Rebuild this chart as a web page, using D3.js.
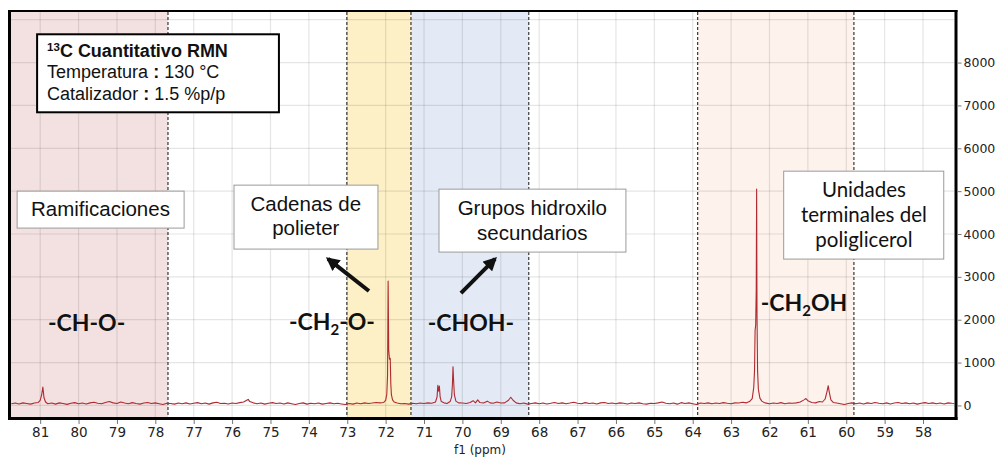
<!DOCTYPE html>
<html>
<head>
<meta charset="utf-8">
<script src="https://cdn.jsdelivr.net/npm/d3@7"></script>
<style>
  body { margin: 0; background: #fff; }
  svg { display: block; }
</style>
</head>
<body>
<svg id="chart" width="996" height="457"></svg>
<script>
// ---- data ----------------------------------------------------------------
const ppmTicks = [81, 80, 79, 78, 77, 76, 75, 74, 73, 72, 71, 70, 69, 68, 67, 66, 65, 64, 63, 62, 61, 60, 59, 58];
const intensityTicks = [0, 1000, 2000, 3000, 4000, 5000, 6000, 7000, 8000];
const intensityGrid = [0, 1000, 2000, 3000, 4000, 5000, 6000, 7000, 8000, 9000];

// assignment regions (ppm from, ppm to)
const regionKeys = ["ramificaciones", "polieter", "hidroxilo", "terminales"];
const regionFrom = [81.76, 73.01, 71.34, 63.87];
const regionTo = [77.67, 71.34, 68.27, 59.80];
const regionBounds = [77.67, 73.01, 71.34, 68.27, 63.87, 59.80];

// 13C spectrum, [ppm, intensity]
const spectrum = [
  [81.75, 40], [81.65, 55], [81.55, 35], [81.45, 60], [81.35, 45], [81.25, 30], [81.15, 55], [81.05, 70],
  [81.00, 120], [80.96, 250], [80.93, 430], [80.90, 180], [80.86, 80], [80.80, 40], [80.70, 55], [80.60, 30],
  [80.50, 60], [80.40, 45], [80.30, 25], [80.20, 50], [80.10, 65], [80.00, 40], [79.90, 55], [79.80, 35],
  [79.70, 60], [79.60, 75], [79.50, 50], [79.40, 40], [79.30, 70], [79.20, 90], [79.10, 60], [79.00, 45],
  [78.90, 80], [78.80, 55], [78.70, 40], [78.60, 65], [78.50, 45], [78.40, 30], [78.30, 55], [78.20, 70],
  [78.10, 45], [78.00, 60], [77.90, 40], [77.80, 20], [77.70, 50], [77.60, 45], [77.50, 30], [77.40, 55],
  [77.30, 40], [77.20, 60], [77.10, 35], [77.00, 50], [76.90, 65], [76.80, 40], [76.70, 55], [76.60, 30],
  [76.50, 60], [76.40, 75], [76.30, 45], [76.20, 50], [76.10, 35], [76.00, 55], [75.90, 45], [75.80, 65],
  [75.70, 80], [75.62, 120], [75.58, 140], [75.54, 90], [75.45, 60], [75.35, 40], [75.25, 55], [75.15, 30],
  [75.05, 50], [74.95, 65], [74.85, 45], [74.75, 55], [74.65, 35], [74.55, 60], [74.45, 40], [74.35, 20],
  [74.25, 45], [74.15, 60], [74.05, 30], [73.95, 50], [73.85, 40], [73.75, 55], [73.65, 30], [73.55, 45],
  [73.45, 60], [73.35, 40], [73.25, 50], [73.15, 35], [73.05, 20], [72.95, 45], [72.85, 30], [72.75, 55],
  [72.65, 40], [72.55, 60], [72.45, 45], [72.35, 55], [72.25, 70], [72.15, 60], [72.05, 70], [72.00, 120],
  [71.97, 260], [71.95, 700], [71.935, 2900], [71.92, 1300], [71.90, 1080], [71.88, 1100], [71.865, 500],
  [71.85, 250], [71.82, 130], [71.78, 80], [71.70, 55], [71.60, 40], [71.50, 45], [71.40, 30], [71.30, 50],
  [71.20, 40], [71.10, 55], [71.00, 45], [70.90, 60], [70.80, 50], [70.70, 80], [70.66, 200], [70.64, 470],
  [70.62, 330], [70.60, 450], [70.58, 200], [70.55, 90], [70.48, 60], [70.40, 45], [70.32, 90], [70.28, 200],
  [70.26, 500], [70.245, 900], [70.23, 600], [70.21, 250], [70.17, 100], [70.10, 60], [70.00, 55], [69.90, 45],
  [69.80, 70], [69.72, 110], [69.66, 60], [69.60, 130], [69.55, 70], [69.45, 55], [69.35, 100], [69.28, 60],
  [69.20, 50], [69.10, 80], [69.00, 55], [68.90, 60], [68.80, 120], [68.74, 190], [68.68, 120], [68.60, 60],
  [68.50, 40], [68.40, 55], [68.30, 30], [68.20, 45], [68.10, 60], [68.00, 40], [67.90, 55], [67.80, 35],
  [67.70, 50], [67.60, 70], [67.50, 45], [67.40, 60], [67.30, 40], [67.20, 55], [67.10, 75], [67.00, 50],
  [66.90, 40], [66.80, 65], [66.70, 45], [66.60, 55], [66.50, 35], [66.40, 60], [66.30, 70], [66.20, 45],
  [66.10, 55], [66.00, 40], [65.90, 60], [65.80, 50], [65.70, 35], [65.60, 55], [65.50, 45], [65.40, 60],
  [65.30, 40], [65.20, 30], [65.10, 50], [65.00, 45], [64.90, 60], [64.80, 80], [64.70, 50], [64.60, 40],
  [64.50, 55], [64.40, 30], [64.30, 65], [64.20, 45], [64.10, 60], [64.00, 40], [63.90, 20], [63.80, 55],
  [63.70, 45], [63.60, 60], [63.50, 40], [63.40, 55], [63.30, 45], [63.20, 65], [63.10, 50], [63.00, 40],
  [62.90, 60], [62.80, 55], [62.70, 75], [62.60, 60], [62.52, 90], [62.45, 160], [62.41, 420], [62.39, 800],
  [62.375, 1750], [62.36, 1870], [62.345, 2700], [62.335, 5050], [62.325, 2100], [62.31, 800], [62.29, 380],
  [62.25, 170], [62.20, 100], [62.12, 60], [62.00, 40], [61.90, 55], [61.80, 45], [61.70, 65], [61.60, 40],
  [61.50, 55], [61.40, 50], [61.30, 60], [61.20, 80], [61.10, 130], [61.05, 160], [61.00, 110], [60.90, 70],
  [60.80, 60], [60.70, 90], [60.62, 80], [60.55, 150], [60.50, 330], [60.47, 460], [60.44, 300], [60.40, 130],
  [60.34, 70], [60.25, 55], [60.15, 40], [60.05, 20], [59.95, 45], [59.85, 60], [59.75, 40], [59.65, 55],
  [59.55, 35], [59.45, 60], [59.35, 45], [59.25, 70], [59.15, 50], [59.05, 40], [58.95, 60], [58.85, 35],
  [58.75, 55], [58.65, 70], [58.55, 45], [58.45, 60], [58.35, 40], [58.25, 55], [58.15, 30], [58.05, 50],
  [57.95, 65], [57.85, 45], [57.75, 60], [57.65, 40], [57.55, 55], [57.45, 35], [57.35, 60], [57.25, 50],
  [57.18, 45]
];

// ---- layout & styles -------------------------------------------------------
const W = 996, H = 457;
const plot = { left: 11, right: 954.5, top: 12, bottom: 417 };
const regionFill = {
  ramificaciones: "#f3e1e1",
  polieter: "#fdf0c6",
  hidroxilo: "#e4eaf5",
  terminales: "#fdf2ec"
};
const axisFont = "'DejaVu Sans', Verdana, sans-serif";
const boxFont = "'Liberation Sans', Arial, sans-serif";
const labelFont = "Lato, 'Open Sans', sans-serif";

const svg = d3.select("#chart");
svg.append("rect").attr("width", W).attr("height", H).attr("fill", "#fff");

const x = d3.scaleLinear().domain([81.76, 57.18]).range([plot.left, plot.right]);
const y = d3.scaleLinear().domain([-270, 9180]).range([plot.bottom, plot.top]);

const defs = svg.append("defs");
defs.append("clipPath").attr("id", "plot-clip")
  .append("rect")
  .attr("x", plot.left).attr("y", plot.top)
  .attr("width", plot.right - plot.left).attr("height", plot.bottom - plot.top);

const inner = svg.append("g").attr("clip-path", "url(#plot-clip)");

// shaded assignment regions
inner.selectAll("rect.region")
  .data(regionKeys.map((k, i) => ({ key: k, from: regionFrom[i], to: regionTo[i] })))
  .join("rect")
  .attr("class", "region")
  .attr("x", d => x(d.from))
  .attr("width", d => x(d.to) - x(d.from))
  .attr("y", plot.top)
  .attr("height", plot.bottom - plot.top)
  .attr("fill", d => regionFill[d.key]);

// grid
inner.selectAll("line.vgrid")
  .data(ppmTicks)
  .join("line")
  .attr("x1", d => x(d)).attr("x2", d => x(d))
  .attr("y1", plot.top).attr("y2", plot.bottom)
  .attr("stroke", "#000").attr("stroke-opacity", 0.1).attr("stroke-width", 1.2);

inner.selectAll("line.hgrid")
  .data(intensityGrid)
  .join("line")
  .attr("x1", plot.left).attr("x2", plot.right)
  .attr("y1", d => y(d)).attr("y2", d => y(d))
  .attr("stroke", "#000").attr("stroke-opacity", 0.1).attr("stroke-width", 1.2);

// dashed region boundaries
inner.selectAll("line.bound")
  .data(regionBounds)
  .join("line")
  .attr("x1", d => x(d)).attr("x2", d => x(d))
  .attr("y1", plot.top).attr("y2", plot.bottom)
  .attr("stroke", "#111").attr("stroke-width", 1)
  .attr("stroke-dasharray", "3,2");

// spectrum trace
const line = d3.line().x(d => x(d[0])).y(d => y(d[1]));
inner.append("path")
  .datum(spectrum)
  .attr("d", line)
  .attr("fill", "none")
  .attr("stroke", "#b02a30")
  .attr("stroke-width", 1.1)
  .attr("stroke-linejoin", "round");

// frame
const frame = svg.append("g").attr("stroke", "#000");
frame.append("line").attr("x1", plot.left - 1.5).attr("x2", plot.left - 1.5)
  .attr("y1", plot.top - 2).attr("y2", plot.bottom + 3).attr("stroke-width", 3);
frame.append("line").attr("x1", plot.right + 1.5).attr("x2", plot.right + 1.5)
  .attr("y1", plot.top - 2).attr("y2", plot.bottom + 3).attr("stroke-width", 3);
frame.append("line").attr("x1", plot.left - 3).attr("x2", plot.right + 3)
  .attr("y1", plot.top - 1).attr("y2", plot.top - 1).attr("stroke-width", 2);
frame.append("line").attr("x1", plot.left - 3).attr("x2", plot.right + 3)
  .attr("y1", plot.bottom + 1.5).attr("y2", plot.bottom + 1.5).attr("stroke-width", 3);

// x axis (ppm)
const xAxis = d3.axisBottom(x).tickValues(ppmTicks).tickSize(4).tickPadding(3).tickFormat(d3.format("d"));
const gx = svg.append("g").attr("transform", `translate(0,${plot.bottom + 3})`).call(xAxis);
gx.select(".domain").remove();
gx.selectAll(".tick line").attr("stroke", "#777");
gx.selectAll(".tick text").attr("font-family", axisFont).attr("font-size", 13.5).attr("fill", "#222");

svg.append("text")
  .attr("x", 480).attr("y", 454)
  .attr("text-anchor", "middle")
  .attr("font-family", axisFont).attr("font-size", 12).attr("fill", "#222")
  .text("f1 (ppm)");

// y axis (intensity), right side
const yAxis = d3.axisRight(y).tickValues(intensityTicks).tickSize(4).tickPadding(2).tickFormat(d3.format("d"));
const gy = svg.append("g").attr("transform", `translate(${plot.right + 3},0)`).call(yAxis);
gy.select(".domain").remove();
gy.selectAll(".tick line").attr("stroke", "#777");
gy.selectAll(".tick text").attr("font-family", axisFont).attr("font-size", 12.5).attr("fill", "#222");

// ---- annotations (placed in ppm / intensity coordinates) ---------------------
const ann = svg.append("g");

// info box
ann.append("rect")
  .attr("x", x(81.08)).attr("y", y(8660))
  .attr("width", x(74.78) - x(81.08)).attr("height", y(6840) - y(8660))
  .attr("fill", "#fff").attr("stroke", "#000").attr("stroke-width", 2);
const info = ann.append("text").attr("font-family", boxFont).attr("font-size", 18).attr("fill", "#111");
const t1 = info.append("tspan").attr("x", x(80.82)).attr("y", y(8126)).attr("font-weight", "bold");
t1.append("tspan").attr("font-size", 11.5).attr("dy", -6).text("13");
t1.append("tspan").attr("dy", 6).text("C Cuantitativo RMN");
const t2 = info.append("tspan").attr("x", x(80.82)).attr("y", y(7634));
t2.append("tspan").text("Temperatura ");
t2.append("tspan").attr("font-weight", "bold").text(":");
t2.append("tspan").text(" 130 °C");
const t3 = info.append("tspan").attr("x", x(80.82)).attr("y", y(7121));
t3.append("tspan").text("Catalizador ");
t3.append("tspan").attr("font-weight", "bold").text(":");
t3.append("tspan").text(" 1.5 %p/p");

// region caption boxes
const captions = [
  { x0: 81.60, x1: 77.25, y0: 5000, y1: 4138, cx: 79.43, lines: ["Ramificaciones"], base: [4417], font: boxFont },
  { x0: 75.95, x1: 72.20, y0: 5140, y1: 3648, cx: 74.08, lines: ["Cadenas de", "polieter"], base: [4534, 3974], font: boxFont },
  { x0: 70.61, x1: 65.74, y0: 5047, y1: 3578, cx: 68.18, lines: ["Grupos hidroxilo", "secundarios"], base: [4441, 3858], font: boxFont },
  { x0: 61.63, x1: 57.46, y0: 5466, y1: 3415, cx: 59.54, lines: ["Unidades", "terminales del", "poliglicerol"], base: [4860, 4277, 3695], font: labelFont }
];
captions.forEach(c => {
  ann.append("rect")
    .attr("x", x(c.x0)).attr("y", y(c.y0))
    .attr("width", x(c.x1) - x(c.x0)).attr("height", y(c.y1) - y(c.y0))
    .attr("fill", "#fff").attr("stroke", "#9a9a9a").attr("stroke-width", 1);
  c.lines.forEach((s, i) => {
    ann.append("text")
      .attr("x", x(c.cx)).attr("y", y(c.base[i]))
      .attr("text-anchor", "middle")
      .attr("font-family", c.font).attr("font-size", 20.5).attr("fill", "#111")
      .text(s);
  });
});

// arrows
defs.append("marker")
  .attr("id", "arrowhead")
  .attr("viewBox", "0 0 10 10").attr("refX", 8).attr("refY", 5)
  .attr("markerWidth", 3.4).attr("markerHeight", 3.4)
  .attr("orient", "auto")
  .append("path").attr("d", "M0,0 L10,5 L0,10 Z").attr("fill", "#111");
const arrows = [
  { from: [72.435, 2669], to: [73.50, 3420] },
  { from: [70.038, 2622], to: [69.15, 3420] }
];
ann.selectAll("line.arrow")
  .data(arrows)
  .join("line")
  .attr("x1", d => x(d.from[0])).attr("y1", d => y(d.from[1]))
  .attr("x2", d => x(d.to[0])).attr("y2", d => y(d.to[1]))
  .attr("stroke", "#111").attr("stroke-width", 4)
  .attr("marker-end", "url(#arrowhead)");

// group formulas
const formulas = [
  { cx: 79.79, cy: 1923, parts: [["-CH-O-", false]] },
  { cx: 73.40, cy: 1946, parts: [["-CH", false], ["2", true], ["-O-", false]] },
  { cx: 69.78, cy: 1923, parts: [["-CHOH-", false]] },
  { cx: 61.10, cy: 2389, parts: [["-CH", false], ["2", true], ["OH", false]] }
];
formulas.forEach(f => {
  const t = ann.append("text")
    .attr("x", x(f.cx)).attr("y", y(f.cy) + 8)
    .attr("text-anchor", "middle")
    .attr("font-family", labelFont).attr("font-weight", "bold")
    .attr("font-size", 23).attr("fill", "#111");
  f.parts.forEach(([s, sub], i) => {
    const ts = t.append("tspan").text(s);
    if (sub) ts.attr("font-size", 15).attr("dy", 5);
    else if (i > 0 && f.parts[i - 1][1]) ts.attr("dy", -5);
  });
});
</script>
</body>
</html>
